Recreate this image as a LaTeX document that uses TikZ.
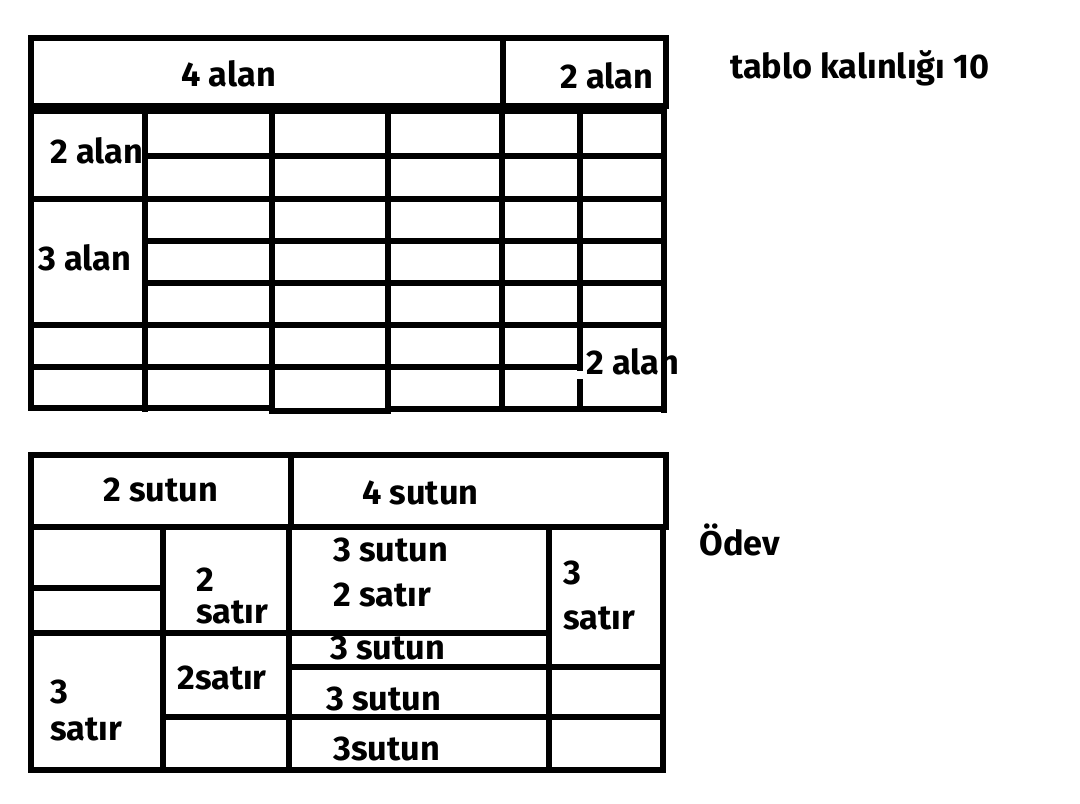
\documentclass[tikz,border=0pt]{standalone}
\usepackage{fontspec}
\setmainfont{Fira Sans}
\begin{document}
\begin{tikzpicture}[x=0.02cm, y=-0.02cm, font=\fontsize{19.5}{22}\selectfont\bfseries,
  boxln/.style={line width=3.8pt, line cap=rect},
  gridln/.style={line width=2.9pt, line cap=rect},
  lbl/.style={anchor=west, inner sep=0pt}
]
  \useasboundingbox (0,0) rectangle (1080,804);
  % ===== upper table: header =====
  \draw[boxln] (31,38) rectangle (666,106);
  \draw[boxln] (503,38) -- (503,106);
  \node[lbl] (upA) at (181,74) {4 alan};
  \node[lbl] (upB) at (560,76) {2 alan};
  % ===== upper table: body =====
  \draw[boxln] (31,111) -- (664,111);
  \draw[boxln] (31,111) -- (31,199);        % thick left part
  \draw[gridln] (31,199) -- (31,408);
  \draw[gridln] (664,111) -- (664,410);
  \draw[boxln] (31,408) -- (272,408);
  \draw[boxln] (272,411) -- (388,411);
  \draw[boxln] (388,409) -- (664,409);
  \foreach \xx in {145,272,388,502}
    \draw[gridln] (\xx,111) -- (\xx,409);
  \draw[gridln] (580,111) -- (580,368);
  \draw[gridln] (580,382) -- (580,409);    % gap next to label
  \draw[gridln] (145,156) -- (664,156);
  \draw[gridln] (31,199) -- (664,199);
  \draw[gridln] (145,241) -- (664,241);
  \draw[gridln] (145,283) -- (664,283);
  \draw[gridln] (31,325) -- (664,325);
  \draw[gridln] (31,367) -- (578,367);
  \node[lbl] (upC) at (50,151) {2 alan};
  \node[lbl] (upD) at (38,258) {3 alan};
  \node[lbl] (upE) at (586,362) {2 alan};
  \node[lbl] (note) at (730,68) {tablo kalınlığı 10};
  % ===== lower table: header =====
  \draw[boxln] (31,455) rectangle (666,527);
  \draw[boxln] (291,455) -- (291,527);
  \node[lbl] (loA) at (103,490) {2 sutun};
  \node[lbl] (loB) at (362,493) {4 sutun};
  % ===== lower table: body =====
  \draw[gridln] (31,527) -- (31,770);
  \draw[gridln] (663,527) -- (663,770);
  \draw[boxln] (31,770) -- (663,770);
  \foreach \xx in {163,289,549}
    \draw[gridln] (\xx,527) -- (\xx,770);
  \draw[gridln] (31,588) -- (163,588);
  \draw[gridln] (31,633) -- (549,633);
  \draw[gridln] (289,667) -- (663,667);
  \draw[gridln] (163,717) -- (663,717);
  \node[lbl] (loC) at (333,550) {3 sutun};
  \node[lbl] (loD) at (333,595) {2 satır};
  \node[lbl] (loE) at (330,648) {3 sutun};
  \node[lbl] (loF) at (326,699) {3 sutun};
  \node[lbl] (loG) at (333,749) {3sutun};
  \node[lbl] (loH) at (196,580) {2};
  \node[lbl] (loI) at (196,612) {satır};
  \node[lbl] (loJ) at (177,678) {2satır};
  \node[lbl] (loK) at (50,692) {3};
  \node[lbl] (loL) at (50,729) {satır};
  \node[lbl] (loM) at (563,573) {3};
  \node[lbl] (loN) at (563,618) {satır};
  \node[lbl] (odev) at (699,540) {Ödev};
\end{tikzpicture}
\end{document}
